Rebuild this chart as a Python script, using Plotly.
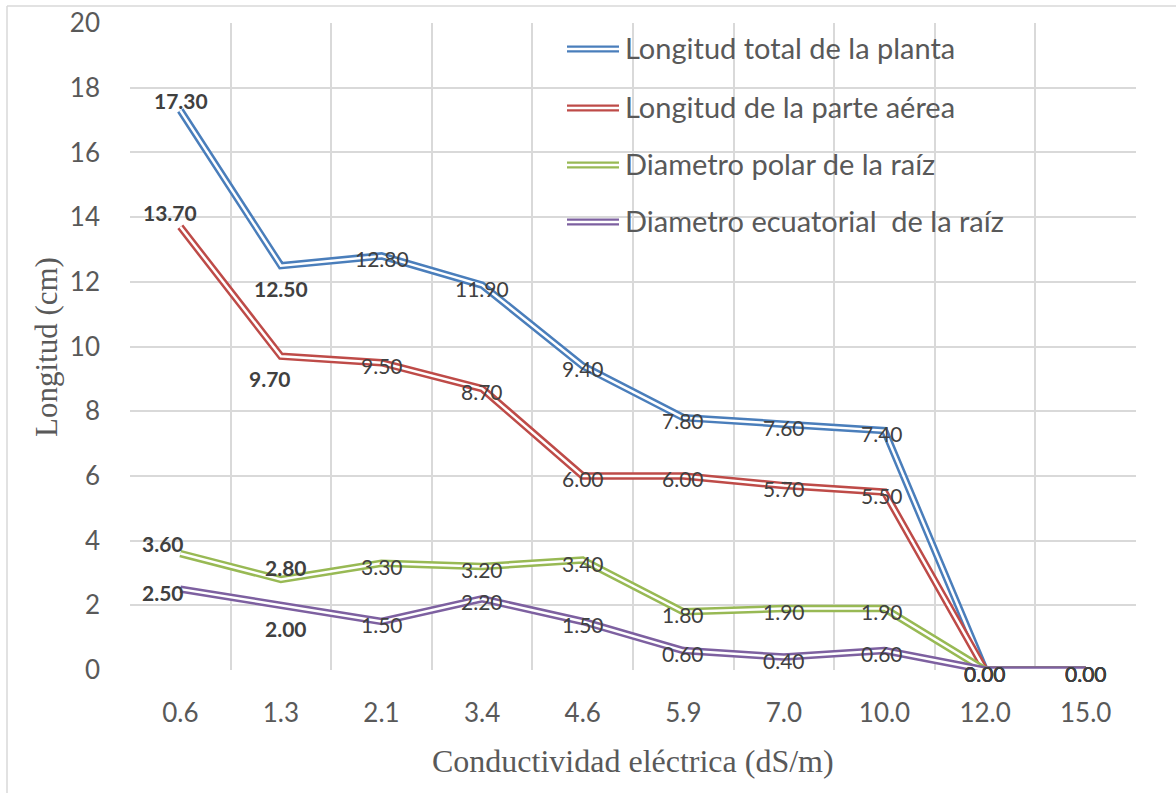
import plotly.graph_objects as go

# Conductividad eléctrica (dS/m)
conductividad = ["0.6", "1.3", "2.1", "3.4", "4.6", "5.9", "7.0", "10.0", "12.0", "15.0"]

long_total = [17.30, 12.50, 12.80, 11.90, 9.40, 7.80, 7.60, 7.40, 0.00, 0.00]
long_aerea = [13.70, 9.70, 9.50, 8.70, 6.00, 6.00, 5.70, 5.50, 0.00, 0.00]
diam_polar = [3.60, 2.80, 3.30, 3.20, 3.40, 1.80, 1.90, 1.90, 0.00, 0.00]
diam_ecuat = [2.50, 2.00, 1.50, 2.20, 1.50, 0.60, 0.40, 0.60, 0.00, 0.00]

series_names = [
    "Longitud total de la planta",
    "Longitud de la parte aérea",
    "Diametro polar de la raíz",
    "Diametro ecuatorial  de la raíz",
]
series_values = [long_total, long_aerea, diam_polar, diam_ecuat]
colors = ["#4a7ebb", "#be4b48", "#98b954", "#7d60a0"]

# label tweaks per series: index -> (xshift, yshift, bold)
label_moves = [
    {0: (1, 10, True), 1: (0, -23, True)},
    {0: (-10, 14, True), 1: (-11, -22, True)},
    {0: (-17, 10, True), 1: (5, 12, True)},
    {0: (-17, -3, True), 1: (5, -23, True)},
]

LABEL_FONT = "Lato, 'Open Sans', sans-serif"
SERIF = "'Liberation Serif', 'Times New Roman', serif"

fig = go.Figure()
annotations = []

for name, vals, col, moves in zip(series_names, series_values, colors, label_moves):
    # double ("compound") line: thick colour with a thin white stroke on top
    fig.add_trace(go.Scatter(x=conductividad, y=vals, mode="lines", name=name,
                             line=dict(color=col, width=7.5), showlegend=False,
                             hoverinfo="skip"))
    fig.add_trace(go.Scatter(x=conductividad, y=vals, mode="lines",
                             line=dict(color="white", width=2.5), showlegend=False,
                             hoverinfo="skip"))
    for i, yv in enumerate(vals):
        dx, dy, bold = moves.get(i, (-3 if i == 7 else 0, -3, False))
        txt = f"{yv:.2f}"
        # category axis: annotations take the category index
        annotations.append(dict(
            x=i, y=yv, xref="x", yref="y", text=f"<b>{txt}</b>" if bold else txt,
            showarrow=False, xshift=dx, yshift=dy,
            font=dict(family=LABEL_FONT, size=21, color="#404040"),
        ))

# legend drawn by hand so the swatches can be double lines
shapes = []
leg_x0, leg_x1 = (567 - 130) / 1006, (619 - 130) / 1006
leg_rows = [49, 108, 165, 222]
for name, col, py in zip(series_names, colors, leg_rows):
    yp = (670 - py) / 647
    shapes.append(dict(type="line", xref="paper", yref="paper", x0=leg_x0, x1=leg_x1,
                       y0=yp, y1=yp, line=dict(color=col, width=7)))
    shapes.append(dict(type="line", xref="paper", yref="paper", x0=leg_x0, x1=leg_x1,
                       y0=yp, y1=yp, line=dict(color="white", width=2.4)))
    annotations.append(dict(x=(623 - 130) / 1006, y=yp, xref="paper", yref="paper",
                            text=name, showarrow=False, xanchor="left", yanchor="middle",
                            yshift=2,
                            font=dict(family=LABEL_FONT, size=29, color="#595959")))

# thin chart frame on the left and top
fx, fy = (7 - 130) / 1006, (670 - 6) / 647
shapes.append(dict(type="line", xref="paper", yref="paper", x0=fx, x1=fx, y0=fy, y1=-0.3,
                   line=dict(color="#d9d9d9", width=1.5)))
shapes.append(dict(type="line", xref="paper", yref="paper", x0=fx, x1=1.1, y0=fy, y1=fy,
                   line=dict(color="#d9d9d9", width=1.5)))

# axis titles
annotations.append(dict(x=(633 - 130) / 1006, y=(670 - 761) / 647, xref="paper", yref="paper",
                        text="Conductividad eléctrica (dS/m)", showarrow=False,
                        xanchor="center", yanchor="middle",
                        font=dict(family=SERIF, size=32, color="#595959")))
annotations.append(dict(x=(46 - 130) / 1006, y=(670 - 347) / 647, xref="paper", yref="paper",
                        text="Longitud (cm)", showarrow=False, textangle=-90,
                        xanchor="center", yanchor="middle",
                        font=dict(family=SERIF, size=31, color="#595959")))

fig.update_layout(
    width=1176, height=793,
    margin=dict(l=130, r=40, t=23, b=123),
    paper_bgcolor="white", plot_bgcolor="white",
    showlegend=False,
    annotations=annotations,
    shapes=shapes,
    xaxis=dict(type="category", tickson="boundaries", range=[-0.5, 9.5],
               showgrid=True, gridcolor="#d9d9d9", gridwidth=1.5, automargin=False,
               showline=False, zeroline=False, ticks="", ticklabelstandoff=25,
               tickfont=dict(family=LABEL_FONT, size=26, color="#595959")),
    yaxis=dict(range=[0, 20], dtick=2, showgrid=True, gridcolor="#d9d9d9",
               gridwidth=1.5, zeroline=False, showline=False, ticks="",
               automargin=False, ticklabelstandoff=29, ticklabeloverflow="allow",
               tickfont=dict(family=LABEL_FONT, size=26, color="#595959")),
)

# drop the default page margin so the figure sits at the window's corner
fig.write_html("out.html", config={"displayModeBar": False},
               post_script="document.body.style.margin='0';")
